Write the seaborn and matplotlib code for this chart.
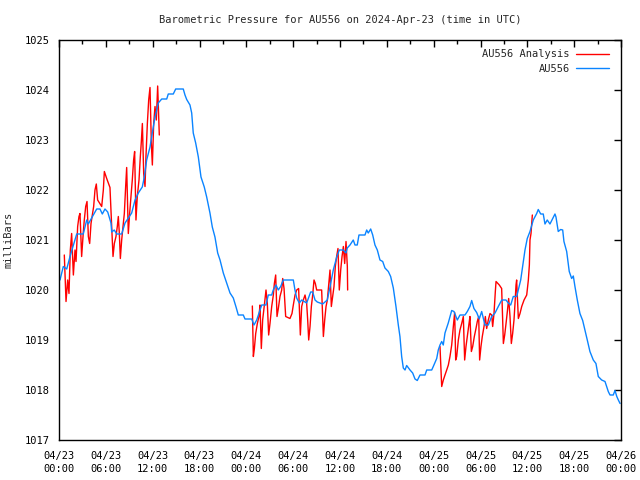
import matplotlib
matplotlib.use("Agg")
import matplotlib.pyplot as plt
from matplotlib.lines import Line2D
from matplotlib.ticker import MultipleLocator
import seaborn as sns
import pandas as pd
import numpy as np

# ---- data: hours since 2024-04-23 00:00 UTC, pressure in mb ----
obs_hours = [0.13, 0.55, 0.99, 1.41, 2.27, 3.11, 3.55, 3.75, 4.39, 4.83, 5.25, 5.55, 5.89, 6.24,
             6.66, 6.75, 7.08, 7.39, 8.03, 8.46, 8.88, 9.31, 9.74, 10.16, 10.67, 10.93, 11.23,
             11.66, 11.95, 12.30, 12.72, 13.16, 13.80, 14.00, 14.64, 14.95, 15.92, 16.14, 16.36,
             16.78, 17.00, 17.20, 17.51, 17.85, 18.19, 18.61, 18.92, 19.34, 19.64, 19.98, 20.33,
             20.63, 21.05, 21.48, 21.91, 22.33, 22.68, 22.97, 23.61, 23.83, 24.69, 24.98, 25.33,
             25.75, 25.97, 26.52, 26.81, 27.25, 27.45, 27.80, 28.09, 28.40, 28.73, 30.02, 30.23,
             30.45, 30.78, 31.09, 31.51, 31.73, 32.24, 32.50, 32.80, 33.09, 33.44, 33.78, 34.08,
             34.37, 34.72, 35.14, 35.58, 35.91, 36.42, 36.77, 36.93, 37.28, 37.70, 37.92, 38.21,
             38.43, 39.20, 39.42, 39.62, 39.93, 40.19, 40.48, 40.78, 41.12, 41.47, 41.76, 42.19,
             42.49, 42.83, 43.17, 43.47, 43.68, 43.90, 44.11, 44.33, 44.54, 44.97, 45.31, 45.61,
             45.90, 46.25, 46.89, 47.11, 47.75, 47.95, 48.39, 48.59, 48.81, 49.03, 49.23, 49.45,
             49.87, 50.31, 50.60, 51.03, 51.37, 52.01, 52.31, 52.65, 52.87, 53.16, 53.51, 53.84,
             54.15, 54.57, 55.00, 55.43, 55.86, 56.28, 56.72, 57.26, 57.56, 57.87, 58.20, 58.64,
             58.84, 59.15, 59.40, 59.70, 59.99, 60.34, 60.76, 61.20, 61.40, 61.71, 62.04, 62.26,
             62.55, 62.90, 63.25, 63.54, 63.67, 63.96, 64.27, 64.53, 64.69, 65.04, 65.37, 65.68,
             65.89, 66.10, 66.40, 66.74, 67.09, 67.38, 67.68, 68.02, 68.45, 68.79, 69.09, 69.52,
             69.95, 70.37, 70.59, 71.01, 71.23, 71.46, 71.66, 71.88]
obs_mb = [1020.20, 1020.47, 1020.42, 1020.67, 1021.12, 1021.12, 1021.40, 1021.32, 1021.50, 1021.62,
          1021.62, 1021.52, 1021.62, 1021.56, 1021.34, 1021.16, 1021.20, 1021.12, 1021.12, 1021.34,
          1021.44, 1021.54, 1021.80, 1021.94, 1022.06, 1022.26, 1022.60, 1022.86, 1023.14, 1023.46,
          1023.74, 1023.82, 1023.82, 1023.92, 1023.92, 1024.02, 1024.02, 1023.90, 1023.81, 1023.70,
          1023.54, 1023.14, 1022.94, 1022.66, 1022.26, 1022.06, 1021.86, 1021.54, 1021.26, 1021.06,
          1020.74, 1020.60, 1020.34, 1020.14, 1019.94, 1019.84, 1019.66, 1019.50, 1019.50, 1019.42,
          1019.42, 1019.30, 1019.40, 1019.60, 1019.70, 1019.70, 1019.90, 1019.90, 1020.00, 1020.10,
          1020.00, 1020.07, 1020.20, 1020.20, 1020.00, 1019.84, 1019.74, 1019.80, 1019.76, 1019.74,
          1019.96, 1019.96, 1019.80, 1019.76, 1019.74, 1019.72, 1019.76, 1019.80, 1020.06, 1020.40,
          1020.66, 1020.80, 1020.80, 1020.74, 1020.84, 1020.90, 1021.00, 1020.90, 1020.90, 1021.10,
          1021.10, 1021.20, 1021.14, 1021.22, 1021.10, 1020.90, 1020.80, 1020.60, 1020.57, 1020.44,
          1020.37, 1020.27, 1020.04, 1019.67, 1019.30, 1019.07, 1018.67, 1018.44, 1018.40, 1018.49,
          1018.40, 1018.34, 1018.22, 1018.19, 1018.30, 1018.30, 1018.40, 1018.40, 1018.47, 1018.63,
          1018.80, 1018.90, 1018.97, 1018.90, 1019.14, 1019.34, 1019.59, 1019.57, 1019.40, 1019.50,
          1019.50, 1019.57, 1019.67, 1019.79, 1019.63, 1019.55, 1019.42, 1019.57, 1019.30, 1019.30,
          1019.47, 1019.54, 1019.67, 1019.80, 1019.80, 1019.74, 1019.70, 1019.87, 1019.87, 1020.00,
          1020.20, 1020.47, 1020.80, 1021.03, 1021.17, 1021.40, 1021.53, 1021.61, 1021.52, 1021.52,
          1021.32, 1021.40, 1021.32, 1021.43, 1021.52, 1021.46, 1021.17, 1021.21, 1021.20, 1020.97,
          1020.77, 1020.37, 1020.23, 1020.28, 1020.07, 1019.80, 1019.53, 1019.39, 1019.20, 1019.00,
          1018.77, 1018.60, 1018.53, 1018.27, 1018.20, 1018.17, 1017.97, 1017.90, 1017.90, 1017.99,
          1017.87, 1017.80, 1017.73]

# analysis: three separate runs
ana1_hours = [0.68, 0.90, 1.11, 1.28, 1.45, 1.62, 1.84, 2.05, 2.18, 2.39, 2.56, 2.69, 2.90, 3.12,
              3.24, 3.42, 3.59, 3.76, 3.93, 4.10, 4.27, 4.44, 4.61, 4.78, 4.95, 5.47, 5.68, 5.81,
              6.11, 6.53, 6.75, 6.92, 7.09, 7.30, 7.47, 7.60, 7.73, 7.86, 8.03, 8.20, 8.37, 8.54,
              8.67, 8.88, 9.05, 9.22, 9.39, 9.56, 9.69, 9.86, 10.03, 10.25, 10.42, 10.55, 10.68,
              10.85, 11.02, 11.14, 11.32, 11.49, 11.66, 11.83, 11.96, 12.13, 12.30, 12.47, 12.64, 12.85]
ana1_mb = [1020.70, 1019.77, 1020.20, 1019.93, 1020.80, 1021.13, 1020.30, 1020.80, 1020.57, 1021.27,
           1021.47, 1021.53, 1020.67, 1021.17, 1021.40, 1021.67, 1021.77, 1021.07, 1020.93, 1021.33,
           1021.50, 1021.67, 1022.00, 1022.12, 1021.80, 1021.67, 1022.00, 1022.37, 1022.23, 1022.05,
           1021.27, 1020.67, 1020.93, 1021.07, 1021.27, 1021.47, 1021.13, 1020.63, 1021.00, 1021.27,
           1021.53, 1022.07, 1022.45, 1021.13, 1021.53, 1021.87, 1022.20, 1022.60, 1022.77, 1021.40,
           1021.87, 1022.20, 1022.67, 1022.97, 1023.33, 1022.33, 1022.07, 1022.67, 1023.33, 1023.80,
           1024.05, 1022.93, 1022.50, 1023.33, 1023.67, 1023.40, 1024.08, 1023.10]

ana2_hours = [24.77, 24.90, 25.03, 25.20, 25.41, 25.62, 25.75, 25.92, 26.09, 26.31, 26.52, 26.69,
              26.86, 27.03, 27.25, 27.46, 27.59, 27.76, 27.93, 28.10, 28.31, 28.53, 28.66, 28.83,
              29.04, 29.59, 29.85, 30.02, 30.24, 30.45, 30.70, 30.92, 31.09, 31.30, 31.52, 31.73,
              31.86, 31.99, 32.16, 32.33, 32.50, 32.67, 32.84, 33.01, 33.65, 33.87, 34.04, 34.21,
              34.38, 34.55, 34.72, 34.89, 35.06, 35.23, 35.40, 35.57, 35.74, 35.91, 36.09, 36.26,
              36.43, 36.60, 36.77, 36.94, 36.98]
ana2_mb = [1019.68, 1018.67, 1018.83, 1019.13, 1019.33, 1019.47, 1019.70, 1018.83, 1019.40, 1019.70,
           1020.00, 1019.73, 1019.10, 1019.33, 1019.67, 1019.90, 1020.13, 1020.30, 1019.47, 1019.63,
           1019.87, 1020.00, 1020.23, 1020.03, 1019.47, 1019.43, 1019.53, 1019.70, 1019.90, 1020.00,
           1020.03, 1019.10, 1019.67, 1019.80, 1019.90, 1019.73, 1019.40, 1019.00, 1019.27, 1019.67,
           1019.90, 1020.20, 1020.13, 1020.00, 1020.00, 1019.07, 1019.40, 1019.67, 1019.80, 1020.10,
           1020.40, 1019.67, 1019.87, 1020.07, 1020.47, 1020.67, 1020.83, 1020.00, 1020.40, 1020.67,
           1020.87, 1020.53, 1020.97, 1020.47, 1020.00]

ana3_hours = [48.81, 49.03, 49.24, 49.45, 49.67, 49.88, 50.09, 50.31, 50.52, 50.69, 50.82, 50.95,
              51.16, 51.37, 51.59, 51.80, 51.97, 52.14, 52.36, 52.53, 52.65, 52.83, 53.00, 53.21,
              53.42, 53.59, 53.77, 53.89, 54.06, 54.23, 54.45, 54.62, 54.79, 55.00, 55.22, 55.43,
              55.56, 55.73, 55.90, 55.99, 56.41, 56.71, 56.84, 56.93, 57.10, 57.27, 57.44, 57.61,
              57.78, 57.95, 58.12, 58.29, 58.42, 58.55, 58.63, 58.72, 58.85, 59.06, 59.28, 59.58,
              59.92, 60.13, 60.26, 60.34, 60.47, 60.64]
ana3_mb = [1018.87, 1018.07, 1018.20, 1018.30, 1018.40, 1018.50, 1018.67, 1018.90, 1019.27, 1019.55,
           1018.60, 1018.67, 1019.00, 1019.20, 1019.33, 1019.47, 1018.60, 1018.87, 1019.13, 1019.33,
           1019.47, 1018.77, 1018.87, 1019.07, 1019.23, 1019.37, 1019.47, 1018.60, 1018.87, 1019.07,
           1019.27, 1019.47, 1019.23, 1019.40, 1019.53, 1019.50, 1019.27, 1019.53, 1019.97, 1020.17,
           1020.10, 1020.03, 1019.40, 1018.93, 1019.10, 1019.33, 1019.57, 1019.83, 1019.47, 1018.93,
           1019.13, 1019.40, 1019.73, 1020.10, 1020.20, 1019.87, 1019.43, 1019.53, 1019.67, 1019.80,
           1019.90, 1020.20, 1020.50, 1021.00, 1021.13, 1021.50]

tick_hours = [0, 6, 12, 18, 24, 30, 36, 42, 48, 54, 60, 66, 72]
tick_labels = ["04/23\n00:00", "04/23\n06:00", "04/23\n12:00", "04/23\n18:00",
               "04/24\n00:00", "04/24\n06:00", "04/24\n12:00", "04/24\n18:00",
               "04/25\n00:00", "04/25\n06:00", "04/25\n12:00", "04/25\n18:00",
               "04/26\n00:00"]
y_ticks = [1017, 1018, 1019, 1020, 1021, 1022, 1023, 1024, 1025]

title = "Barometric Pressure for AU556 on 2024-Apr-23 (time in UTC)"
RED = "#ff0000"
BLUE = "#0a84ff"

obs_df = pd.DataFrame({"hours": obs_hours, "mb": obs_mb})
ana_df = pd.concat([
    pd.DataFrame({"hours": ana1_hours, "mb": ana1_mb, "run": 1}),
    pd.DataFrame({"hours": ana2_hours, "mb": ana2_mb, "run": 2}),
    pd.DataFrame({"hours": ana3_hours, "mb": ana3_mb, "run": 3}),
])

sns.set_style("white")
plt.rcParams["font.family"] = ["DejaVu Sans Mono"]
plt.rcParams["font.size"] = 7.5

fig = plt.figure(figsize=(6.4, 4.8), dpi=100)
ax = fig.add_axes([59 / 640, 40 / 480, (621 - 59) / 640, (440 - 40) / 480])

sns.lineplot(data=ana_df, x="hours", y="mb", units="run", estimator=None,
             color=RED, linewidth=1.0, ax=ax, legend=False, sort=False)
sns.lineplot(data=obs_df, x="hours", y="mb", color=BLUE, linewidth=1.0,
             ax=ax, legend=False, sort=False)

ax.set_xlim(0, 72)
ax.set_ylim(1017, 1025)
ax.set_xticks(tick_hours)
ax.set_xticklabels(tick_labels, linespacing=1.35)
ax.xaxis.set_minor_locator(MultipleLocator(3))
ax.set_yticks(y_ticks)
ax.set_yticklabels([str(v) for v in y_ticks])
ax.tick_params(axis="both", which="both", direction="in", top=True, right=True,
               labelsize=7.5, colors="black")
ax.tick_params(axis="x", which="major", pad=8)
ax.tick_params(axis="y", which="major", pad=7)
ax.tick_params(axis="both", which="major", length=5, width=1)
ax.tick_params(axis="x", which="minor", length=3, width=1)
for s in ax.spines.values():
    s.set_visible(True)
    s.set_color("black")
    s.set_linewidth(1.0)
ax.set_xlabel("")
ax.set_ylabel("milliBars", fontsize=7.5, labelpad=8)
ax.grid(False)

fig.text(340 / 640, 1 - 20 / 480, title, ha="center", va="center", fontsize=7.5)

handles = [Line2D([], [], color=RED, linewidth=1.0),
           Line2D([], [], color=BLUE, linewidth=1.0)]
ax.legend(handles, ["AU556 Analysis", "AU556"], loc="upper right", markerfirst=False,
          frameon=False, fontsize=7.5, handlelength=3.2, handletextpad=0.6,
          labelspacing=0.45, borderaxespad=0.3, bbox_to_anchor=(0.992, 0.995))

fig.savefig("out.png", dpi=100, facecolor="white")
